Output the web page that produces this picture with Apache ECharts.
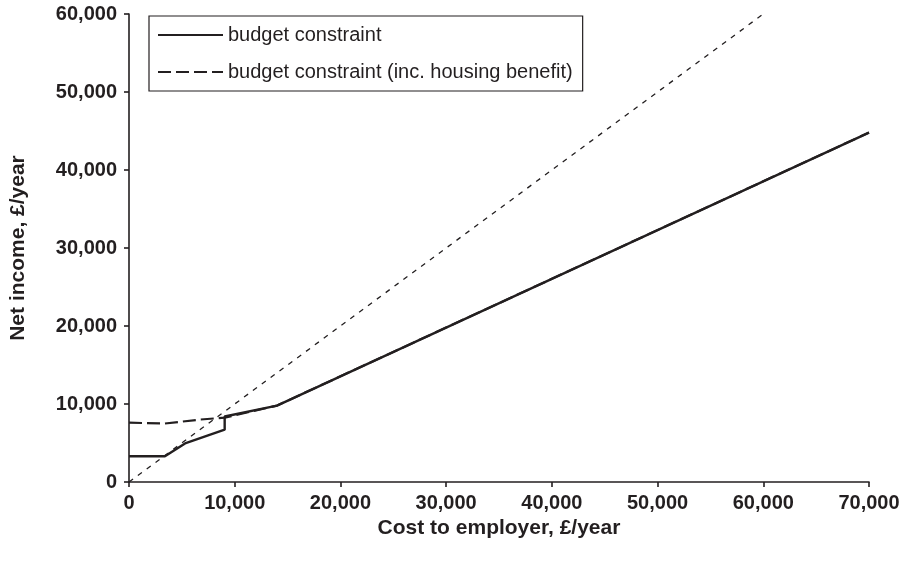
<!DOCTYPE html>
<html>
<head>
<meta charset="utf-8">
<script src="https://cdn.jsdelivr.net/npm/echarts@6/dist/echarts.min.js"></script>
<style>
html,body{margin:0;padding:0;background:#fff;}
#chart{width:905px;height:567px;}
</style>
</head>
<body>
<div id="chart"></div>
<script>
// Data
var seriesNames = ['budget constraint', 'budget constraint (inc. housing benefit)'];
var budgetConstraint = [[0, 3300], [3400, 3300], [5300, 4950], [9050, 6700], [9050, 8400], [14000, 9800], [70000, 44800]];
var budgetHousing = [[0, 7600], [3400, 7500], [6700, 8000], [9050, 8250], [14000, 9800], [70000, 44800]];
var diagonal = [[0, 0], [60000, 60000]];
var xTicks = [0, 10000, 20000, 30000, 40000, 50000, 60000, 70000];
var yTicks = [0, 10000, 20000, 30000, 40000, 50000, 60000];
var xTitle = 'Cost to employer, £/year';
var yTitle = 'Net income, £/year';

function fmt(v) { return String(v).replace(/\B(?=(\d{3})+(?!\d))/g, ','); }

var INK = '#231f20';
var chart = echarts.init(document.getElementById('chart'), null, {renderer: 'canvas'});
var axisCommon = {
  type: 'value',
  nameLocation: 'middle',
  nameTextStyle: {fontFamily: 'Liberation Sans', fontWeight: 'bold', fontSize: 21, color: INK},
  axisLine: {show: true, onZero: false, lineStyle: {color: INK, width: 1.6}},
  axisTick: {show: true, inside: false, length: 5, lineStyle: {color: INK, width: 1.6}},
  splitLine: {show: false},
  axisLabel: {fontFamily: 'Liberation Sans', fontWeight: 'bold', fontSize: 20, color: INK, formatter: fmt}
};
chart.setOption({
  animation: false,
  backgroundColor: '#ffffff',
  grid: {left: 129, right: 36, top: 14, bottom: 85, containLabel: false},
  legend: {
    data: seriesNames,
    left: 149, top: 16,
    orient: 'vertical',
    padding: [8, 10, 8, 8],
    itemGap: 15,
    itemWidth: 65,
    itemHeight: 14,
    borderColor: INK,
    borderWidth: 1.2,
    borderRadius: 0,
    backgroundColor: '#fff',
    itemStyle: {opacity: 0},
    textStyle: {fontFamily: 'Liberation Sans', fontSize: 20, lineHeight: 22, color: INK}
  },
  xAxis: Object.assign({}, axisCommon, {
    min: xTicks[0], max: xTicks[xTicks.length - 1], interval: xTicks[1] - xTicks[0],
    name: xTitle, nameGap: 33,
    axisLabel: Object.assign({}, axisCommon.axisLabel, {margin: 11})
  }),
  yAxis: Object.assign({}, axisCommon, {
    min: yTicks[0], max: yTicks[yTicks.length - 1], interval: yTicks[1] - yTicks[0],
    name: yTitle, nameGap: 100,
    axisLabel: Object.assign({}, axisCommon.axisLabel, {margin: 12})
  }),
  series: [
    {
      name: 'diagonal', type: 'line', data: diagonal, symbol: 'none', silent: true,
      lineStyle: {color: INK, width: 1.3, type: [5, 6]}, z: 1
    },
    {
      name: seriesNames[1], type: 'line', data: budgetHousing, symbol: 'none',
      lineStyle: {color: INK, width: 2.2, type: [13, 5]}, itemStyle: {color: INK}, z: 2
    },
    {
      name: seriesNames[0], type: 'line', data: budgetConstraint, symbol: 'none',
      lineStyle: {color: INK, width: 2.4, type: 'solid'}, itemStyle: {color: INK}, z: 3
    }
  ]
});
</script>
</body>
</html>
